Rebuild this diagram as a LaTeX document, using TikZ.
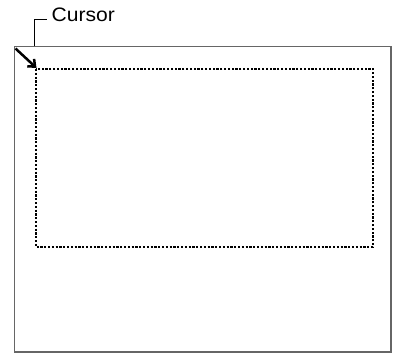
\documentclass[tikz,border=0pt]{standalone}
\usepackage{fontspec}
\setmainfont{Liberation Sans}
\usetikzlibrary{arrows.meta}
\begin{document}
\begin{tikzpicture}[x=1pt,y=-1pt,
  screen/.style={draw=black!60,line width=1.8pt},
  region/.style={draw=black,line width=1.2pt,dash pattern=on 2.2pt off 1.6pt},
  leader/.style={draw=black,line width=0.9pt},
  pointer/.style={draw=black,line width=2.5pt,-{Straight Barb[length=6pt,width=10pt,line width=2.5pt]}},
  lbl/.style={font=\fontsize{19.5}{19.5}\selectfont,inner sep=0pt,anchor=base west}]
\useasboundingbox (0,0) rectangle (393,353);
\coordinate (tl) at (14.5,46.5);
\coordinate (br) at (391,352);
\draw[screen] (tl) rectangle (br);
\coordinate (dtl) at (36,69);
\coordinate (dbr) at (373,247);
\draw[region] (dtl) rectangle (dbr);
\node[lbl,xscale=1.08] (cur) at (51.5,21.7) {Cursor};
\coordinate (lfoot) at (34.3,46.5);
\coordinate (lbend) at (34.3,19);
\draw[leader] (lfoot) -- (lbend) -- (47,19);
\coordinate (pstart) at (15.5,48.5);
\coordinate (ptip) at (36.5,68);
\draw[pointer] (pstart) -- (ptip);
\end{tikzpicture}
\end{document}
